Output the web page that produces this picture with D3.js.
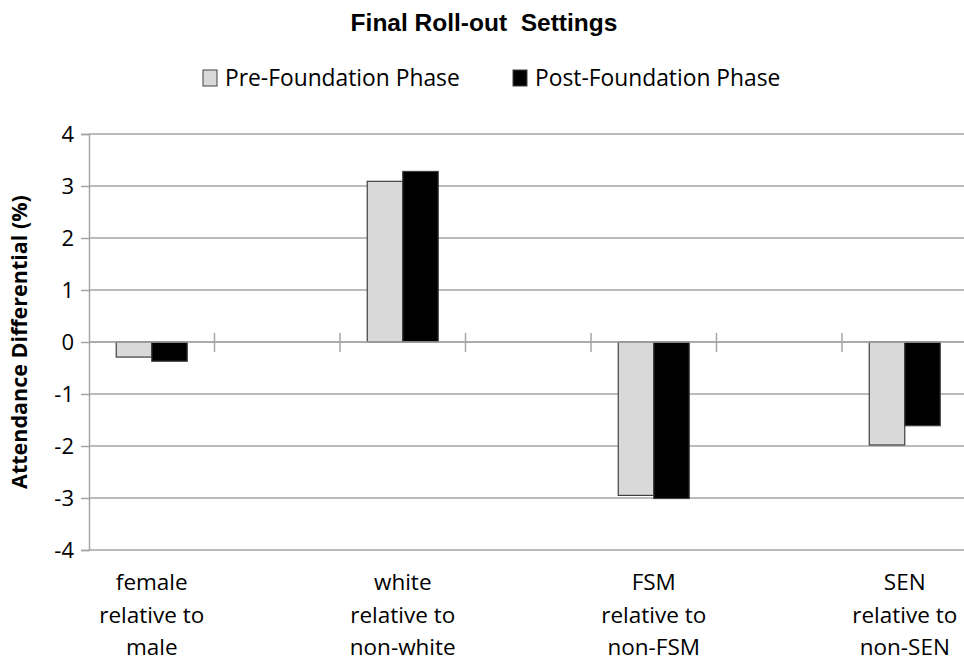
<!DOCTYPE html>
<html>
<head>
<meta charset="utf-8">
<script src="https://cdn.jsdelivr.net/npm/d3@7"></script>
<style>
  body { margin: 0; background: #fff; }
  svg { display: block; }
  .lbl { font-family: "Open Sans", sans-serif; }
</style>
</head>
<body>
<script>
// categories (blank slots are the empty columns between groups)
var categories = [
  ["female", "relative to", "male"],
  [],
  ["white", "relative to", "non-white"],
  [],
  ["FSM", "relative to", "non-FSM"],
  [],
  ["SEN", "relative to", "non-SEN"]
];
var seriesNames = ["Pre-Foundation Phase", "Post-Foundation Phase"];
var preValues  = [-0.29, null, 3.09, null, -2.95, null, -1.98];
var postValues = [-0.37, null, 3.28, null, -3.01, null, -1.61];
var yTicks = [4, 3, 2, 1, 0, -1, -2, -3, -4];

var colors = ["#d9d9d9", "#000000"];

var W = 964, H = 664;
var m = {left: 89, top: 134, right: 0, bottom: 114};
var plotW = 125.5 * categories.length;

var svg = d3.select(document.body).append("svg")
  .attr("width", W).attr("height", H);

var x = d3.scaleBand().domain(d3.range(categories.length))
  .range([m.left, m.left + plotW]);
var y = d3.scaleLinear().domain([-4, 4]).range([550, 134]);

// gridlines
svg.append("g").selectAll("line").data(yTicks).enter().append("line")
  .attr("x1", m.left).attr("x2", m.left + plotW)
  .attr("y1", function(d){ return y(d); }).attr("y2", function(d){ return y(d); })
  .attr("stroke", "#a6a6a6").attr("stroke-width", 1.5);

// y axis
var yAxis = svg.append("g").attr("transform", "translate(" + m.left + ",0)")
  .call(d3.axisLeft(y).tickValues(yTicks).tickSize(8).tickPadding(7)
    .tickFormat(function(d){ return d; }));
yAxis.select(".domain").attr("stroke", "#a6a6a6").attr("stroke-width", 1.5);
yAxis.selectAll(".tick line").attr("stroke", "#a6a6a6").attr("stroke-width", 1.5);
yAxis.selectAll(".tick text")
  .attr("class", "lbl").attr("font-size", 22).attr("fill", "#000");

// bars
var inner = d3.scaleBand().domain([0, 1]).range([0, 71]);
var off = (x.bandwidth() - 71) / 2;
var series = [preValues, postValues];
series.forEach(function(vals, si){
  svg.append("g").selectAll("rect")
    .data(vals.map(function(v, i){ return {i: i, v: v}; }).filter(function(d){ return d.v !== null; }))
    .enter().append("rect")
    .attr("x", function(d){ return x(d.i) + off + inner(si); })
    .attr("width", inner.bandwidth())
    .attr("y", function(d){ return y(Math.max(0, d.v)); })
    .attr("height", function(d){ return Math.abs(y(d.v) - y(0)); })
    .attr("fill", colors[si])
    .attr("stroke", "#404040").attr("stroke-width", 1.2);
});

// category axis at zero, ticks crossing
var xAxisG = svg.append("g");
xAxisG.append("line")
  .attr("x1", m.left).attr("x2", m.left + plotW)
  .attr("y1", y(0)).attr("y2", y(0))
  .attr("stroke", "#a6a6a6").attr("stroke-width", 1.5);
xAxisG.selectAll("line.tk").data(d3.range(1, categories.length)).enter().append("line")
  .attr("class", "tk")
  .attr("x1", function(d){ return x(d); }).attr("x2", function(d){ return x(d); })
  .attr("y1", y(0) - 9).attr("y2", y(0) + 10)
  .attr("stroke", "#a6a6a6").attr("stroke-width", 1.5);

// category labels at bottom
var catG = svg.append("g").selectAll("text").data(categories).enter().append("text")
  .attr("class", "lbl")
  .attr("text-anchor", "middle").attr("font-size", 22.5)
  .attr("x", function(d, i){ return x(i) + x.bandwidth() / 2; })
  .attr("y", 590);
catG.selectAll("tspan").data(function(d){ return d; }).enter().append("tspan")
  .attr("x", function(){ return d3.select(this.parentNode).attr("x"); })
  .attr("dy", function(d, j){ return j === 0 ? 0 : 32.5; })
  .text(function(d){ return d; });

// y axis title
svg.append("text")
  .attr("class", "lbl")
  .attr("transform", "translate(27," + y(0) + ") rotate(-90)")
  .attr("text-anchor", "middle").attr("font-size", 21.5).attr("font-weight", "bold")
  .text("Attendance Differential (%)");

// title
svg.append("text")
  .attr("x", 484).attr("y", 31)
  .attr("text-anchor", "middle")
  .attr("font-family", "'Liberation Sans', Arial, sans-serif")
  .attr("font-weight", "bold").attr("font-size", 24.5)
  .attr("xml:space", "preserve")
  .text("Final Roll-out  Settings");

// legend
var legendX = [203, 513];
var lg = svg.append("g").selectAll("g").data(seriesNames).enter().append("g")
  .attr("transform", function(d, i){ return "translate(" + legendX[i] + ",70)"; });
lg.append("rect").attr("x", 0).attr("y", 0).attr("width", 14).attr("height", 16)
  .attr("fill", function(d, i){ return colors[i]; })
  .attr("stroke", "#404040").attr("stroke-width", 1);
lg.append("text").attr("class", "lbl").attr("x", 22).attr("y", 16)
  .attr("font-size", 22.8).text(function(d){ return d; });
</script>
</body>
</html>
